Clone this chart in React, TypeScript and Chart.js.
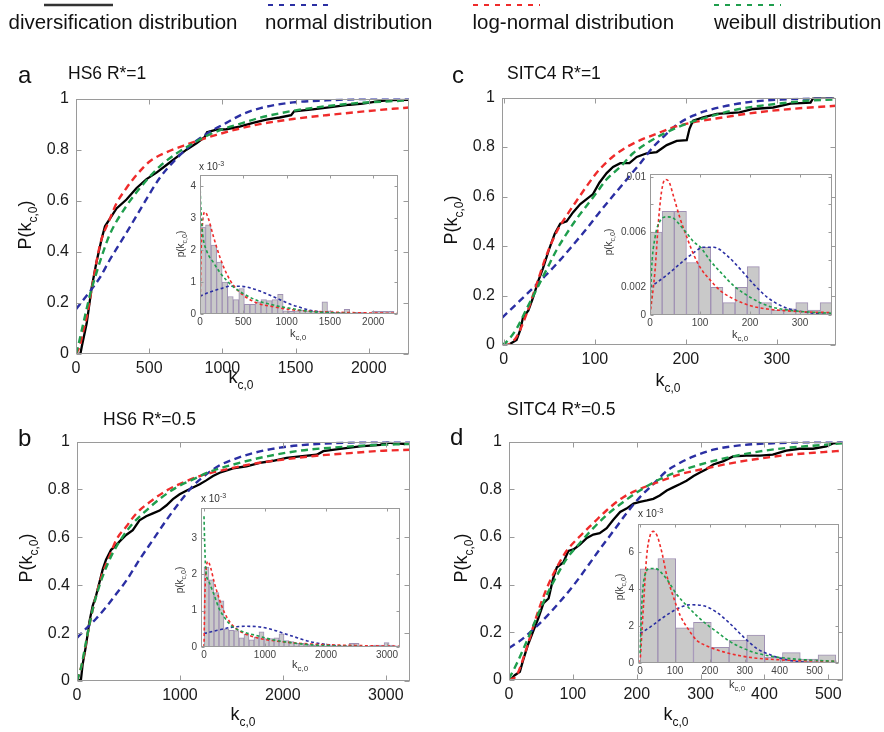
import React, { useEffect, useRef } from 'react';
import { Chart, registerables } from 'chart.js';
Chart.register(...registerables);

type Pt = [number, number];

// ---------------- DATA ----------------
const mainYTicks = [0, 0.2, 0.4, 0.6, 0.8, 1];
const mainYLabels = ['0', '0.2', '0.4', '0.6', '0.8', '1'];
const aXTicks = [0, 500, 1000, 1500, 2000];
const bXTicks = [0, 1000, 2000, 3000];
const cXTicks = [0, 100, 200, 300];
const dXTicks = [0, 100, 200, 300, 400, 500];

const aInYTicks = [0, 1, 2, 3, 4];
const bInYTicks = [0, 1, 2, 3];
const cInYTicks = [0, 0.002, 0.004, 0.006, 0.008, 0.01];
const cInYLabels = ['0', '0.002', '', '0.006', '', '0.01'];
const dInYTicks = [0, 2, 4, 6];
const aInXTicks = [0, 500, 1000, 1500, 2000];
const bInXTicks = [0, 1000, 2000, 3000];
const cInXTicks = [0, 100, 200, 300];
const dInXTicks = [0, 100, 200, 300, 400, 500];

// Panel a: HS6 R*=1
const aEmp: Pt[] = [[0,0],[30,0],[40,0.03],[73,0.12],[107,0.26],[140,0.36],[175,0.45],[198,0.5],[232,0.53],[277,0.57],[345,0.605],[414,0.65],[482,0.685],[550,0.71],[618,0.74],[686,0.77],[755,0.8],[823,0.825],[880,0.85],[895,0.868],[959,0.878],[1027,0.88],[1118,0.89],[1209,0.905],[1300,0.918],[1391,0.926],[1470,0.935],[1490,0.95],[1618,0.958],[1755,0.968],[1870,0.976],[1959,0.98],[2073,0.99],[2150,0.994],[2275,0.995]];
const aRed: Pt[] = [[0,0],[25,0.03],[50,0.09],[75,0.15],[118,0.29],[165,0.43],[232,0.53],[277,0.59],[345,0.65],[391,0.685],[459,0.73],[505,0.755],[618,0.79],[732,0.815],[845,0.838],[959,0.858],[1100,0.88],[1255,0.9],[1482,0.92],[1709,0.935],[1936,0.948],[2164,0.96],[2275,0.965]];
const aGreen: Pt[] = [[0,0],[16,0.035],[50,0.12],[95,0.23],[141,0.32],[186,0.4],[232,0.47],[345,0.58],[459,0.665],[573,0.735],[686,0.785],[800,0.825],[914,0.86],[1027,0.885],[1141,0.905],[1255,0.925],[1482,0.952],[1709,0.97],[1936,0.983],[2164,0.99],[2275,0.993]];
const aBlue: Pt[] = [[0,0.175],[95,0.245],[164,0.3],[232,0.37],[345,0.475],[459,0.585],[573,0.69],[686,0.765],[800,0.825],[914,0.87],[1027,0.905],[1141,0.94],[1255,0.962],[1482,0.985],[1709,0.993],[1936,0.998],[2275,1]];
const aBin = 64;
const aHist = [2.73,2.8,2.16,1.63,1.0,0.55,0.45,0.8,0.3,0.3,0.38,0.45,0.42,0.45,0.62,0.1,0.08,0.1,0.12,0.1,0.08,0.08,0.38,0.1,0.05,0.05,0.15,0.03,0.05,0.05,0.03,0.08,0.08,0.08,0.08];
const aPdfG: Pt[] = [[0,4.05],[12,3.2],[31,2.5],[77,1.98],[154,1.62],[231,1.3],[308,1.05],[385,0.85],[500,0.64],[654,0.43],[846,0.28],[1038,0.18],[1269,0.08],[1500,0.04],[1808,0.01],[2290,0]];
const aPdfR: Pt[] = [[0,0],[12,1.88],[31,2.9],[58,3.2],[96,3.0],[154,2.44],[231,1.77],[308,1.26],[385,0.9],[500,0.59],[654,0.35],[846,0.23],[1038,0.14],[1269,0.09],[1500,0.06],[1808,0.04],[2290,0.02]];
const aPdfB: Pt[] = [[0,0.56],[115,0.69],[231,0.79],[346,0.87],[462,0.87],[577,0.82],[692,0.72],[808,0.59],[923,0.45],[1038,0.31],[1154,0.21],[1269,0.12],[1423,0.06],[1615,0.02],[1800,0.005],[2290,0]];

// Panel b: HS6 R*=0.5
const bEmp: Pt[] = [[0,0],[39,0.007],[55,0.07],[88,0.15],[120,0.247],[153,0.315],[185,0.356],[217,0.41],[250,0.466],[282,0.507],[331,0.548],[364,0.56],[412,0.582],[477,0.61],[542,0.63],[607,0.671],[672,0.688],[737,0.7],[802,0.712],[867,0.733],[932,0.76],[997,0.78],[1062,0.795],[1127,0.808],[1192,0.822],[1256,0.838],[1321,0.856],[1386,0.87],[1516,0.888],[1646,0.897],[1776,0.911],[1906,0.92],[2036,0.932],[2166,0.938],[2328,0.945],[2393,0.96],[2555,0.97],[2750,0.98],[2945,0.986],[3010,0.996],[3107,0.993],[3188,0.99]];
const bRed: Pt[] = [[0,0],[55,0.082],[120,0.233],[185,0.356],[250,0.452],[315,0.52],[380,0.589],[477,0.644],[575,0.699],[705,0.747],[867,0.795],[1029,0.829],[1192,0.856],[1451,0.884],[1711,0.907],[2003,0.925],[2328,0.941],[2652,0.952],[2977,0.962],[3235,0.966]];
const bGreen: Pt[] = [[0,0],[39,0.055],[88,0.164],[153,0.3],[217,0.397],[282,0.473],[347,0.534],[444,0.603],[542,0.658],[672,0.712],[802,0.76],[964,0.808],[1127,0.842],[1289,0.874],[1516,0.904],[1841,0.938],[2166,0.962],[2490,0.975],[2815,0.984],[3235,0.99]];
const bBlue: Pt[] = [[0,0.18],[88,0.219],[185,0.26],[282,0.308],[380,0.363],[477,0.418],[607,0.507],[737,0.589],[867,0.671],[997,0.747],[1127,0.815],[1256,0.863],[1386,0.901],[1516,0.925],[1711,0.952],[1971,0.975],[2296,0.989],[2652,0.996],[3235,1]];
const bBin = 82;
const bHist = [2.2,1.85,1.5,1.27,0.5,0.46,0.45,0.25,0.35,0.2,0.27,0.42,0.23,0.23,0.25,0.36,0.18,0.15,0.1,0.1,0.08,0.06,0.05,0.04,0.03,0.04,0.03,0.03,0.03,0.1,0.1,0.02,0.02,0.04,0.05,0.05,0.12,0.05,0.03];
const bPdfG: Pt[] = [[0,3.6],[11,2.9],[27,2.18],[82,1.8],[165,1.44],[247,1.06],[330,0.83],[440,0.6],[604,0.44],[879,0.31],[1154,0.19],[1429,0.12],[1703,0.065],[1978,0.04],[2527,0.01],[3213,0]];
const bPdfR: Pt[] = [[0,0],[16,1.5],[38,2.18],[66,2.36],[110,2.18],[165,1.8],[247,1.34],[330,0.97],[440,0.65],[604,0.42],[879,0.25],[1154,0.17],[1429,0.12],[1978,0.065],[2527,0.04],[3213,0.02]];
const bPdfB: Pt[] = [[0,0.37],[220,0.46],[440,0.54],[659,0.57],[879,0.56],[1099,0.49],[1319,0.37],[1538,0.25],[1758,0.14],[1978,0.074],[2253,0.028],[2527,0.01],[3213,0]];

// Panel c: SITC4 R*=1
const cEmp: Pt[] = [[0,0],[5,0],[8,0.007],[14,0.02],[18,0.06],[21,0.11],[27,0.14],[32,0.19],[38,0.26],[43,0.31],[50,0.39],[56,0.45],[62,0.49],[69,0.5],[76,0.536],[84,0.57],[91,0.59],[98,0.61],[105,0.656],[113,0.695],[120,0.72],[128,0.735],[138,0.735],[146,0.76],[157,0.775],[168,0.78],[179,0.808],[190,0.825],[201,0.828],[204,0.874],[208,0.907],[219,0.92],[234,0.934],[259,0.94],[274,0.954],[296,0.96],[315,0.976],[337,0.98],[340,0.998],[363,1]];
const cRed: Pt[] = [[0,0],[3,0],[14,0.033],[25,0.126],[36,0.245],[47,0.364],[58,0.457],[69,0.523],[80,0.583],[91,0.642],[105,0.709],[120,0.762],[135,0.8],[150,0.828],[168,0.854],[186,0.88],[208,0.9],[241,0.92],[278,0.94],[315,0.954],[365,0.967]];
const cGreen: Pt[] = [[-2,0],[3,0.013],[14,0.066],[25,0.146],[36,0.225],[47,0.305],[58,0.384],[69,0.45],[80,0.51],[91,0.563],[102,0.616],[113,0.67],[128,0.72],[142,0.775],[157,0.815],[179,0.86],[201,0.894],[223,0.92],[259,0.954],[296,0.973],[333,0.987],[365,0.993]];
const cBlue: Pt[] = [[-2,0.11],[14,0.166],[25,0.205],[36,0.245],[47,0.285],[62,0.344],[76,0.404],[91,0.47],[105,0.536],[120,0.603],[135,0.669],[150,0.735],[164,0.8],[179,0.854],[190,0.89],[208,0.927],[223,0.947],[245,0.967],[274,0.984],[311,0.993],[365,1]];
const cBin = 24.3;
const cHist = [0.006,0.0075,0.0075,0.0038,0.0049,0.002,0.0009,0.002,0.0035,0.0009,0.00036,0.00045,0.0009,0.00036,0.0009];
const cPdfR: Pt[] = [[0,0],[10,0.0032],[17,0.0068],[23,0.0089],[30,0.0098],[37,0.0097],[47,0.0086],[60,0.007],[74,0.0056],[87,0.0044],[101,0.0034],[121,0.0025],[141,0.00175],[168,0.00115],[201,0.00067],[235,0.00043],[275,0.0003],[329,0.0002],[364,0.00018]];
const cPdfG: Pt[] = [[0,0],[3,0.0032],[10,0.0056],[20,0.0068],[34,0.0071],[47,0.007],[60,0.0065],[74,0.0059],[87,0.0053],[101,0.0049],[121,0.0039],[141,0.0031],[168,0.0021],[201,0.00127],[235,0.00067],[275,0.00036],[329,0.00019],[364,0.00012]];
const cPdfB: Pt[] = [[0,0.002],[34,0.0029],[60,0.0037],[87,0.0045],[107,0.0049],[128,0.0049],[154,0.0043],[181,0.0033],[208,0.0022],[235,0.00127],[262,0.00067],[288,0.00036],[329,0.00012],[364,0.00002]];

// Panel d: SITC4 R*=0.5
const dEmp: Pt[] = [[0,0],[4,0.005],[9,0.02],[17,0.034],[22,0.082],[30,0.15],[38,0.205],[46,0.26],[54,0.322],[62,0.342],[69,0.425],[75,0.473],[85,0.493],[93,0.541],[101,0.548],[111,0.568],[122,0.596],[132,0.61],[142,0.616],[153,0.637],[163,0.671],[174,0.705],[184,0.719],[195,0.74],[205,0.747],[216,0.753],[226,0.76],[236,0.774],[247,0.795],[257,0.808],[268,0.822],[278,0.836],[289,0.856],[299,0.87],[309,0.884],[320,0.904],[336,0.918],[351,0.938],[372,0.941],[393,0.941],[413,0.945],[434,0.962],[455,0.97],[476,0.97],[497,0.98],[508,0.993],[521,0.997]];
const dRed: Pt[] = [[0,0],[12,0.02],[28,0.137],[43,0.267],[59,0.384],[75,0.473],[90,0.541],[111,0.603],[132,0.658],[153,0.712],[179,0.767],[205,0.801],[236,0.833],[268,0.863],[309,0.888],[351,0.911],[393,0.929],[440,0.945],[492,0.956],[523,0.962]];
const dGreen: Pt[] = [[0,0.005],[12,0.068],[28,0.164],[43,0.26],[59,0.356],[75,0.438],[90,0.507],[111,0.575],[132,0.637],[153,0.692],[179,0.747],[205,0.795],[236,0.842],[268,0.877],[309,0.911],[351,0.938],[393,0.959],[440,0.975],[492,0.986],[523,0.993]];
const dBlue: Pt[] = [[0,0.134],[17,0.164],[38,0.212],[59,0.267],[80,0.329],[101,0.397],[122,0.473],[142,0.548],[163,0.623],[184,0.699],[205,0.767],[226,0.822],[247,0.877],[268,0.911],[289,0.938],[320,0.966],[361,0.984],[413,0.993],[523,1]];
const dBin = 51;
const dHist = [5.08,5.64,1.9,2.2,0.85,1.23,1.5,0.32,0.56,0.21,0.44];
const dPdfR: Pt[] = [[0,0],[10,3.2],[19,5.8],[29,6.9],[38,7.1],[48,6.9],[62,6.0],[76,4.76],[96,3.53],[115,2.56],[134,1.94],[162,1.23],[191,0.92],[239,0.6],[287,0.39],[334,0.26],[392,0.18],[468,0.12],[564,0.09]];
const dPdfG: Pt[] = [[0,0.53],[5,3.2],[14,4.76],[29,5.1],[43,5.1],[62,4.85],[81,4.4],[105,3.7],[134,3.09],[162,2.56],[191,2.08],[220,1.68],[258,1.15],[296,0.79],[334,0.53],[392,0.32],[468,0.18],[564,0.09]];
const dPdfB: Pt[] = [[0,1.59],[29,1.94],[67,2.47],[105,2.91],[143,3.14],[181,3.09],[220,2.73],[258,2.12],[296,1.41],[334,0.79],[373,0.44],[411,0.21],[468,0.05],[564,0]];

// ---------------- STYLE ----------------
const FONT = "'Liberation Sans', Arial, Helvetica, sans-serif";
const C_BLACK = '#000000';
const C_BLUE = '#2b2fa3';
const C_RED = '#ef2b2b';
const C_GREEN = '#1f9e4d';
const C_BOX = '#9a9a9a';

const toXY = (a: Pt[]) => a.map(([x, y]) => ({ x, y }));
const histXY = (h: number[], w: number) => h.map((y, i) => ({ x: (i + 0.5) * w, y }));

const mainFit = (pts: Pt[], color: string) => ({
  type: 'line', data: toXY(pts), borderColor: color, borderWidth: 2.4, borderDash: [7, 4.5],
  pointRadius: 0, fill: false, cubicInterpolationMode: 'monotone',
});
const mainEmp = (pts: Pt[]) => ({
  type: 'line', data: toXY(pts), borderColor: C_BLACK, borderWidth: 2.3,
  pointRadius: 0, fill: false, tension: 0,
});
const inFit = (pts: Pt[], color: string) => ({
  type: 'line', data: toXY(pts), borderColor: color, borderWidth: 1.6, borderDash: [3, 2.5],
  pointRadius: 0, fill: false, cubicInterpolationMode: 'monotone',
});
const inHist = (h: number[], w: number) => ({
  type: 'bar', data: histXY(h, w), backgroundColor: '#c9c9c9', borderColor: '#9f90b3',
  borderWidth: 1, barPercentage: 1, categoryPercentage: 1,
});

const MAIN = { yW: 52, xH: 28, padTop: 12, padRight: 14, font: 16, yPad: 7, xPad: 5, tick: 5, color: '#1a1a1a', inset: false };
const INSET = { xH: 16, padTop: 8, padRight: 4, font: 10, yPad: 4, xPad: 2, tick: 3, color: '#444', inset: true };

interface Spec {
  L: number; T: number; R: number; B: number;
  xMin: number; xMax: number; yMin: number; yMax: number;
  xTicks: number[]; yTicks: number[]; yLabels: string[];
  datasets: any[]; st: any; yW: number;
}

const specs: Spec[] = [
  { L: 76, T: 94, R: 409, B: 354, xMin: 0, xMax: 2275, yMin: 0, yMax: 1, xTicks: aXTicks, yTicks: mainYTicks, yLabels: mainYLabels,
    datasets: [mainFit(aGreen, C_GREEN), mainFit(aRed, C_RED), mainFit(aBlue, C_BLUE), mainEmp(aEmp)], st: MAIN, yW: MAIN.yW },
  { L: 502, T: 93, R: 836, B: 345, xMin: -2, xMax: 365, yMin: 0, yMax: 1, xTicks: cXTicks, yTicks: mainYTicks, yLabels: mainYLabels,
    datasets: [mainFit(cGreen, C_GREEN), mainFit(cRed, C_RED), mainFit(cBlue, C_BLUE), mainEmp(cEmp)], st: MAIN, yW: MAIN.yW },
  { L: 77, T: 437, R: 410, B: 681, xMin: 0, xMax: 3235, yMin: 0, yMax: 1, xTicks: bXTicks, yTicks: mainYTicks, yLabels: mainYLabels,
    datasets: [mainFit(bGreen, C_GREEN), mainFit(bRed, C_RED), mainFit(bBlue, C_BLUE), mainEmp(bEmp)], st: MAIN, yW: MAIN.yW },
  { L: 509, T: 437, R: 843, B: 680, xMin: 0, xMax: 523, yMin: 0, yMax: 1, xTicks: dXTicks, yTicks: mainYTicks, yLabels: mainYLabels,
    datasets: [mainFit(dGreen, C_GREEN), mainFit(dRed, C_RED), mainFit(dBlue, C_BLUE), mainEmp(dEmp)], st: MAIN, yW: MAIN.yW },
  { L: 200, T: 173, R: 398, B: 314, xMin: 0, xMax: 2286, yMin: 0, yMax: 4.36, xTicks: aInXTicks, yTicks: aInYTicks, yLabels: aInYTicks.map(String),
    datasets: [inFit(aPdfG, C_GREEN), inFit(aPdfR, C_RED), inFit(aPdfB, C_BLUE), inHist(aHist, aBin)], st: INSET, yW: 24 },
  { L: 650, T: 172, R: 832, B: 315, xMin: 0, xMax: 364, yMin: 0, yMax: 0.0102, xTicks: cInXTicks, yTicks: cInYTicks, yLabels: cInYLabels,
    datasets: [inFit(cPdfG, C_GREEN), inFit(cPdfR, C_RED), inFit(cPdfB, C_BLUE), inHist(cHist, cBin)], st: INSET, yW: 40 },
  { L: 201, T: 506, R: 400, B: 647, xMin: -49, xMax: 3213, yMin: 0, yMax: 3.83, xTicks: bInXTicks, yTicks: bInYTicks, yLabels: bInYTicks.map(String),
    datasets: [inFit(bPdfG, C_GREEN), inFit(bPdfR, C_RED), inFit(bPdfB, C_BLUE), inHist(bHist, bBin)], st: INSET, yW: 24 },
  { L: 638, T: 522, R: 839, B: 663, xMin: -6, xMax: 570, yMin: 0, yMax: 7.5, xTicks: dInXTicks, yTicks: dInYTicks, yLabels: dInYTicks.map(String),
    datasets: [inFit(dPdfG, C_GREEN), inFit(dPdfR, C_RED), inFit(dPdfB, C_BLUE), inHist(dHist, dBin)], st: INSET, yW: 24 },
];

function ChartBox({ spec }: { spec: Spec }) {
  const ref = useRef<HTMLCanvasElement>(null);
  const st = spec.st;
  const w = spec.yW + (spec.R - spec.L) + st.padRight;
  const h = st.padTop + (spec.B - spec.T) + st.xH;
  useEffect(() => {
    const s = spec;
    const boxPlugin = {
      id: 'mbox',
      beforeDraw(chart: any) {
        if (!st.inset) return;
        const a = chart.chartArea;
        const ctx = chart.ctx;
        ctx.save();
        ctx.fillStyle = '#ffffff';
        ctx.fillRect(a.left, a.top, a.right - a.left, a.bottom - a.top);
        ctx.restore();
      },
      afterDraw(chart: any) {
        const a = chart.chartArea;
        const ctx = chart.ctx;
        const x = chart.scales.x;
        const y = chart.scales.y;
        ctx.save();
        ctx.strokeStyle = C_BOX;
        ctx.lineWidth = 1;
        const l = Math.round(a.left) + 0.5, r = Math.round(a.right) - 0.5;
        const t = Math.round(a.top) + 0.5, b = Math.round(a.bottom) - 0.5;
        ctx.strokeRect(l, t, r - l, b - t);
        ctx.beginPath();
        s.xTicks.forEach((v) => {
          const px = Math.round(x.getPixelForValue(v)) + 0.5;
          ctx.moveTo(px, b); ctx.lineTo(px, b - st.tick);
          ctx.moveTo(px, t); ctx.lineTo(px, t + st.tick);
        });
        s.yTicks.forEach((v) => {
          const py = Math.round(y.getPixelForValue(v)) + 0.5;
          ctx.moveTo(l, py); ctx.lineTo(l + st.tick, py);
          ctx.moveTo(r, py); ctx.lineTo(r - st.tick, py);
        });
        ctx.stroke();
        ctx.restore();
      },
    };
    const chart = new Chart(ref.current as HTMLCanvasElement, {
      type: 'line',
      data: { datasets: s.datasets as any },
      options: {
        animation: false,
        responsive: false,
        devicePixelRatio: 1,
        layout: { padding: { top: st.padTop, right: st.padRight, left: 0, bottom: 0 } },
        plugins: { legend: { display: false }, tooltip: { enabled: false } },
        scales: {
          x: {
            type: 'linear', min: s.xMin, max: s.xMax, offset: false,
            grid: { display: false, drawTicks: false }, border: { display: false },
            afterBuildTicks: (sc: any) => { sc.ticks = s.xTicks.map((v) => ({ value: v })); },
            afterFit: (sc: any) => { sc.height = st.xH; },
            ticks: { padding: st.xPad, autoSkip: false, maxRotation: 0, color: st.color,
              font: { family: FONT, size: st.font }, callback: (_v: any, i: number) => String(s.xTicks[i]) },
          },
          y: {
            type: 'linear', min: s.yMin, max: s.yMax,
            grid: { display: false, drawTicks: false }, border: { display: false },
            afterBuildTicks: (sc: any) => { sc.ticks = s.yTicks.map((v) => ({ value: v })); },
            afterFit: (sc: any) => { sc.width = s.yW; },
            ticks: { padding: st.yPad, autoSkip: false, color: st.color,
              font: { family: FONT, size: st.font }, callback: (_v: any, i: number) => s.yLabels[i] },
          },
        },
      } as any,
      plugins: [boxPlugin],
    });
    return () => chart.destroy();
  }, []);
  return (
    <canvas ref={ref} width={w} height={h}
      style={{ position: 'absolute', left: spec.L - spec.yW, top: spec.T - st.padTop, width: w, height: h }} />
  );
}

const Sub = ({ t, dy, fs }: { t: string; dy: number; fs: number }) => (
  <tspan dy={dy} fontSize={fs}>{t}</tspan>
);

function Overlay() {
  const mainX = (x: number, y: number) => (
    <text x={x} y={y} textAnchor="middle" fontSize={18}>k<Sub t="c,0" dy={6} fs={12} /></text>
  );
  const mainY = (bx: number, cy: number) => (
    <text transform={`translate(${bx},${cy}) rotate(-90)`} textAnchor="middle" fontSize={18}>
      P(k<Sub t="c,0" dy={6} fs={12} /><tspan dy={-6}>)</tspan>
    </text>
  );
  const inX = (x: number, y: number) => (
    <text x={x} y={y} textAnchor="middle" fontSize={11} fill="#333">k<Sub t="c,0" dy={3} fs={8} /></text>
  );
  const inY = (bx: number, cy: number) => (
    <text transform={`translate(${bx},${cy}) rotate(-90)`} textAnchor="middle" fontSize={10} fill="#333">
      p(k<Sub t="c,0" dy={3} fs={7} /><tspan dy={-3}>)</tspan>
    </text>
  );
  const expo = (x: number, y: number) => (
    <text x={x} y={y} fontSize={10} fill="#333">x 10<Sub t="-3" dy={-4} fs={7} /></text>
  );
  return (
    <svg width={884} height={732} style={{ position: 'absolute', left: 0, top: 0, pointerEvents: 'none' }}
      fontFamily={FONT} fill="#111">
      {/* legend */}
      <line x1={44} x2={113} y1={5} y2={5} stroke="#333" strokeWidth={2.5} />
      <line x1={268} x2={334} y1={5} y2={5} stroke={C_BLUE} strokeWidth={2.2} strokeDasharray="5 6" />
      <line x1={473} x2={540} y1={5} y2={5} stroke={C_RED} strokeWidth={2.2} strokeDasharray="5 6" />
      <line x1={714} x2={781} y1={5} y2={5} stroke={C_GREEN} strokeWidth={2.2} strokeDasharray="5 6" />
      <text x={8.5} y={29} fontSize={20.5}>diversification distribution</text>
      <text x={265} y={29} fontSize={20.5}>normal distribution</text>
      <text x={472.5} y={29} fontSize={20.5}>log-normal distribution</text>
      <text x={714} y={29} fontSize={20.5}>weibull distribution</text>
      {/* panel letters and titles */}
      <text x={18} y={83} fontSize={24}>a</text>
      <text x={68} y={79} fontSize={17.5}>HS6 R*=1</text>
      <text x={452} y={83} fontSize={24}>c</text>
      <text x={507} y={79} fontSize={17.5}>SITC4 R*=1</text>
      <text x={18} y={446} fontSize={24}>b</text>
      <text x={103} y={425} fontSize={17.5}>HS6 R*=0.5</text>
      <text x={450} y={445} fontSize={24}>d</text>
      <text x={507} y={415} fontSize={17.5}>SITC4 R*=0.5</text>
      {/* main axis titles */}
      {mainX(241, 383)}
      {mainX(668, 386)}
      {mainX(243, 720)}
      {mainX(676, 720)}
      {mainY(31, 225)}
      {mainY(457, 220)}
      {mainY(32, 558)}
      {mainY(467, 558)}
      {/* inset titles */}
      {inX(298, 337)}
      {inX(740, 338)}
      {inX(300, 668)}
      {inX(737, 688)}
      {inY(184, 244)}
      {inY(612, 242)}
      {inY(183, 580)}
      {inY(623, 587)}
      {expo(199, 170)}
      {expo(201, 502)}
      {expo(638, 517)}
    </svg>
  );
}

export default function App() {
  return (
    <div style={{ position: 'absolute', left: 0, top: 0, width: 884, height: 732, background: '#fff', overflow: 'hidden' }}>
      {specs.map((s, i) => <ChartBox key={i} spec={s} />)}
      <Overlay />
    </div>
  );
}
